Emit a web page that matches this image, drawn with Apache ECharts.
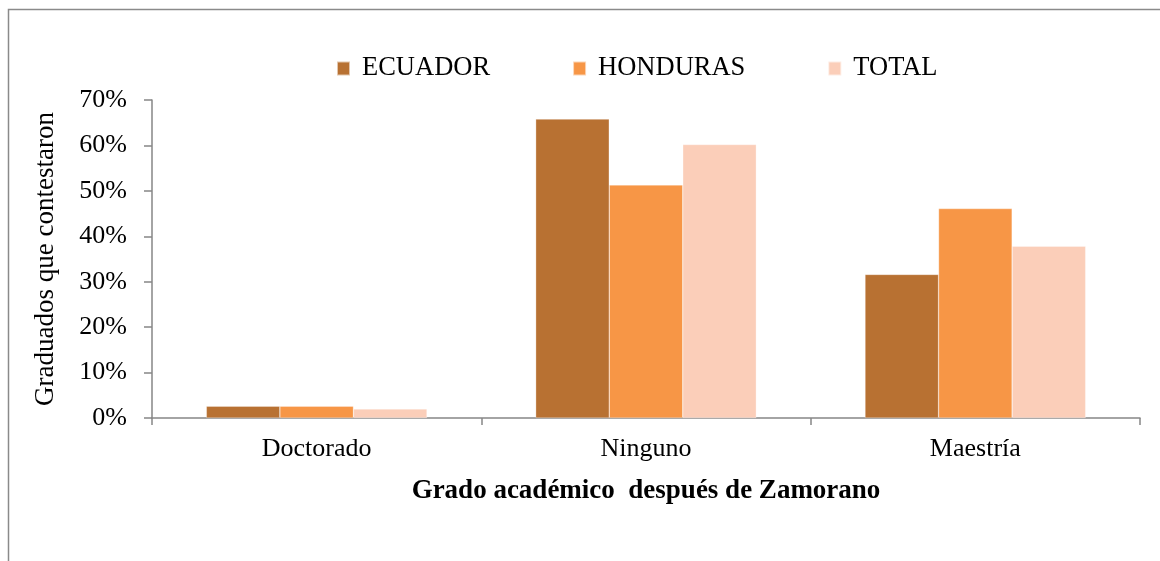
<!DOCTYPE html>
<html>
<head>
<meta charset="utf-8">
<script src="https://cdn.jsdelivr.net/npm/echarts@6/dist/echarts.min.js"></script>
<style>
  html, body { margin: 0; padding: 0; background: #fff; }
  #chart { width: 1160px; height: 561px; }
</style>
</head>
<body>
<div id="chart"></div>
<script>
  // grado academico despues de Zamorano (%)
  var categories = ['Doctorado', 'Ninguno', 'Maestría'];
  var ecuador = [2.6, 65.8, 31.6];
  var honduras = [2.6, 51.3, 46.1];
  var total = [2.0, 60.2, 37.8];
  var yTicks = [0, 10, 20, 30, 40, 50, 60, 70];

  var serif = '"Liberation Serif", "DejaVu Serif", serif';
  var axisGray = '#868686';

  var myChart = echarts.init(document.getElementById('chart'));

  function barSeries(name, data, color) {
    return {
      name: name,
      type: 'bar',
      data: data,
      barGap: '0%',
      barCategoryGap: '33%',
      itemStyle: { color: color, borderColor: 'rgba(255,255,255,0.6)', borderWidth: 0.5 }
    };
  }

  var option = {
    animation: false,
    backgroundColor: '#fff',
    textStyle: { fontFamily: serif, color: '#000' },
    graphic: [{
      type: 'rect',
      left: 6, top: 7,
      shape: { width: 1200, height: 600 },
      style: { fill: 'none', stroke: '#8a8a8a', lineWidth: 1.5 },
      silent: true
    }],
    legend: {
      top: 50,
      left: 331,
      itemWidth: 13,
      itemHeight: 14,
      itemGap: 82,
      icon: 'rect',
      textStyle: { fontFamily: serif, fontSize: 26.5, color: '#000', padding: [0, 0, 0, 7] },
      data: ['ECUADOR', 'HONDURAS', 'TOTAL']
    },
    grid: { left: 152, right: 20, top: 100, bottom: 143 },
    xAxis: {
      type: 'category',
      data: categories,
      axisLine: { lineStyle: { color: axisGray, width: 1.5 } },
      axisTick: { show: true, length: 7, lineStyle: { color: axisGray, width: 1.5 } },
      axisLabel: { fontFamily: serif, fontSize: 26, color: '#000', margin: 18 },
      name: 'Grado académico  después de Zamorano',
      nameLocation: 'middle',
      nameGap: 60,
      nameTextStyle: { fontFamily: serif, fontSize: 27, fontWeight: 'bold', color: '#000' }
    },
    yAxis: {
      type: 'value',
      min: yTicks[0],
      max: yTicks[yTicks.length - 1],
      interval: 10,
      splitLine: { show: false },
      axisLine: { show: true, lineStyle: { color: axisGray, width: 1.5 } },
      axisTick: { show: true, length: 8, lineStyle: { color: axisGray, width: 1.5 } },
      axisLabel: {
        fontFamily: serif, fontSize: 26, color: '#000', margin: 25,
        formatter: function (v) { return v + '%'; }
      },
      name: 'Graduados que contestaron',
      nameLocation: 'middle',
      nameGap: 93,
      nameTextStyle: { fontFamily: serif, fontSize: 27, color: '#000' }
    },
    series: [
      barSeries('ECUADOR', ecuador, '#B87132'),
      barSeries('HONDURAS', honduras, '#F79646'),
      barSeries('TOTAL', total, '#FBCEB9')
    ]
  };

  myChart.setOption(option);
</script>
</body>
</html>
